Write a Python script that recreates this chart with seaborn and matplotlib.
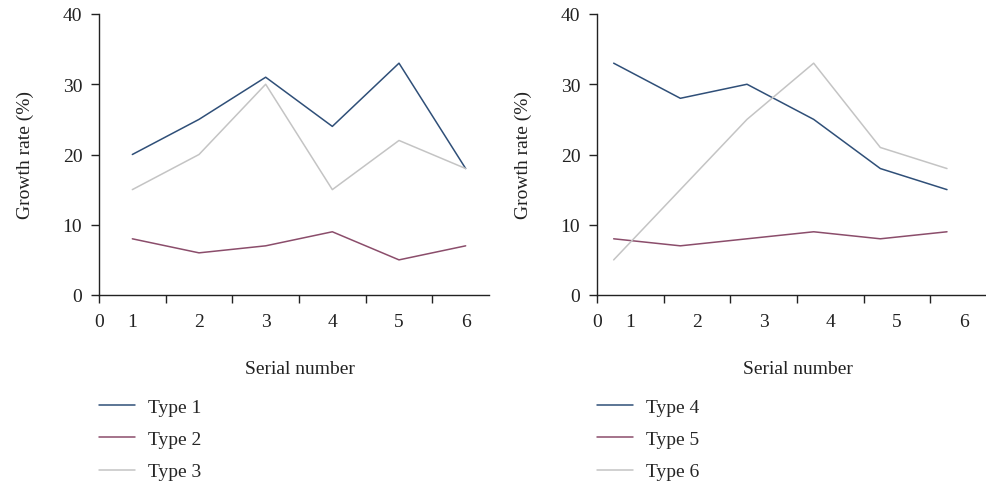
import matplotlib
matplotlib.use("Agg")
import matplotlib.pyplot as plt
import seaborn as sns
import pandas as pd
import numpy as np

# Data
serial_labels = ["0", "1", "2", "3", "4", "5", "6"]
left_x = [0.5, 1.5, 2.5, 3.5, 4.5, 5.5]
right_x = [0.25, 1.25, 2.25, 3.25, 4.25, 5.25]
type1 = [20, 25, 31, 24, 33, 18]
type2 = [8, 6, 7, 9, 5, 7]
type3 = [15, 20, 30, 15, 22, 18]
type4 = [33, 28, 30, 25, 18, 15]
type5 = [8, 7, 8, 9, 8, 9]
type6 = [5, 15, 25, 33, 21, 18]

colors = ["#2f4f78", "#8b4d6b", "#c4c4c4"]

sns.set_theme(style="ticks")
plt.rcParams["font.family"] = ["Liberation Serif", "DejaVu Serif"]

W, H = 987, 485
FS = 14
fig = plt.figure(figsize=(W / 100, H / 100), dpi=100)

def make_df(x, series, names):
    rows = []
    for name, vals in zip(names, series):
        for xi, v in zip(x, vals):
            rows.append({"x": xi, "y": v, "Type": name})
    return pd.DataFrame(rows)

panels = [
    (99, left_x, [type1, type2, type3], ["Type 1", "Type 2", "Type 3"]),
    (597, right_x, [type4, type5, type6], ["Type 4", "Type 5", "Type 6"]),
]

for x0, xs, series, names in panels:
    ax = fig.add_axes([x0 / W, (H - 296) / H, 390 / W, 281 / H])
    df = make_df(xs, series, names)
    sns.lineplot(data=df, x="x", y="y", hue="Type", palette=colors, ax=ax,
                 linewidth=1.1, legend=True)
    ax.set_xlim(0, 5.85)
    ax.set_ylim(0, 40)
    ax.set_yticks([0, 10, 20, 30, 40])
    ax.xaxis.remove_overlapping_locs = False
    ax.set_xticks([0, 1, 2, 3, 4, 5])
    ax.set_xticklabels([])
    ax.set_xticks([0, 0.5, 1.5, 2.5, 3.5, 4.5, 5.5], labels=serial_labels, minor=True)
    ax.tick_params(axis="x", which="major", length=6, width=1, color="#222222", direction="out")
    ax.tick_params(axis="x", which="minor", length=0, pad=13, labelsize=FS, labelcolor="#222222")
    ax.tick_params(axis="y", length=6, width=1, color="#222222", pad=6, labelsize=FS, labelcolor="#222222")
    for s in ["top", "right"]:
        ax.spines[s].set_visible(False)
    for s in ["left", "bottom"]:
        ax.spines[s].set_color("#222222")
        ax.spines[s].set_linewidth(1.0)
    ax.set_ylabel("Growth rate (%)", fontsize=FS, color="#222222")
    ax.yaxis.set_label_coords((34 - 99) / 390, 0.5)
    ax.set_xlabel("Serial number", fontsize=FS, color="#222222")
    ax.xaxis.set_label_coords(0.515, -(361 - 296) / 281)
    ax.legend(loc="upper left", bbox_to_anchor=(x0 / W, 1 - 399 / H),
              bbox_transform=fig.transFigure, frameon=False, fontsize=FS,
              handlelength=1.85, handletextpad=0.65, labelspacing=0.76,
              borderpad=0, borderaxespad=0, title=None)

fig.savefig("out.png", dpi=100)
